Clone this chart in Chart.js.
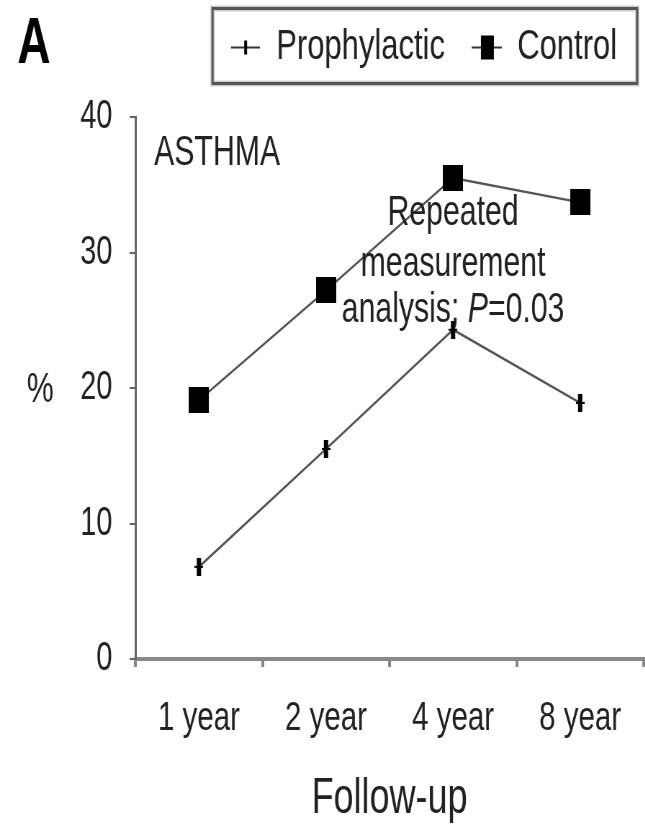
<!DOCTYPE html>
<html>
<head>
<meta charset="utf-8">
<script src="https://cdn.jsdelivr.net/npm/chart.js@4.4.1/dist/chart.umd.min.js"></script>
<style>
  html, body { margin: 0; padding: 0; background: #fff; overflow: hidden; }
  /* the figure is a horizontally squeezed one: draw wide, then squeeze */
  #asthmaChart { display: block; transform: scaleX(0.72); transform-origin: 0 0; }
</style>
</head>
<body>
<canvas id="asthmaChart" width="896" height="824"></canvas>
<script>
const categories = ['1 year', '2 year', '4 year', '8 year'];
const prophylactic = [6.8, 15.5, 24.3, 18.9];
const control = [19.1, 27.2, 35.5, 33.7];
const seriesNames = ['Prophylactic', 'Control'];
const yMin = 0, yMax = 40, yStep = 10;

const FONT = '"Liberation Sans", Arial, sans-serif';
const INK = '#222';
const LINE = '#555';

function makeMark(w, h, draw) {
  const c = document.createElement('canvas');
  c.width = w; c.height = h;
  draw(c.getContext('2d'), w, h);
  return c;
}
// chart markers
const ctrlMark = makeMark(28, 26, (g, w, h) => { g.fillStyle = '#000'; g.fillRect(0, 0, w, h); });
const prophMark = makeMark(12, 18, (g, w, h) => {
  g.fillStyle = '#000';
  g.fillRect(3, 0, 6, h);
  g.fillRect(0, 8, w, 2);
});
// legend markers (line segment with marker)
const prophLegend = makeMark(40, 16, (g, w, h) => {
  g.fillStyle = '#333'; g.fillRect(0, 7, w, 2);
  g.fillStyle = '#000'; g.fillRect(18, 1, 4, 14);
});
const ctrlLegend = makeMark(42, 26, (g, w, h) => {
  g.fillStyle = '#333'; g.fillRect(0, 12, w, 2);
  g.fillStyle = '#000'; g.fillRect(13, 1, 18, 24);
});

// extra space under the legend
const legendSpacer = {
  id: 'legendSpacer',
  beforeInit(chart) {
    const fit = chart.legend.fit;
    chart.legend.fit = function () { fit.call(this); this.height += 38; };
  }
};

// legend frame, panel letter, axis symbol and notes
const notes = {
  id: 'notes',
  afterDraw(chart) {
    const ctx = chart.ctx;
    const xs = chart.scales.x, ys = chart.scales.y, area = chart.chartArea;
    const boxes = chart.legend.legendHitBoxes;
    ctx.save();
    if (boxes.length) {
      const first = boxes[0], last = boxes[boxes.length - 1];
      const l = first.left - 25, r = last.left + last.width + 28;
      const cy = first.top + first.height / 2;
      ctx.strokeStyle = '#ccc'; ctx.lineWidth = 6;
      ctx.strokeRect(l, cy - 39, r - l, 75);
      ctx.strokeStyle = '#555'; ctx.lineWidth = 3;
      ctx.strokeRect(l, cy - 39, r - l, 75);
    }
    ctx.fillStyle = '#000';
    ctx.textBaseline = 'middle';
    ctx.textAlign = 'left';
    ctx.font = 'bold 64px ' + FONT;
    ctx.fillText('A', 24, 45);

    ctx.fillStyle = INK;
    ctx.font = '42px ' + FONT;
    ctx.textAlign = 'center';
    ctx.fillText('%', 56, ys.getPixelForValue(19.8));

    ctx.textAlign = 'left';
    ctx.fillText('ASTHMA', area.left + 26, ys.getPixelForValue(37.3));

    const cx = xs.getPixelForValue(2);
    ctx.textAlign = 'center';
    ctx.fillText('Repeated', cx, ys.getPixelForValue(32.9));
    ctx.fillText('measurement', cx, ys.getPixelForValue(29.1));

    const parts = [['analysis; ', ''], ['P', 'italic '], ['=0.03', '']];
    let total = 0;
    parts.forEach(p => { ctx.font = p[1] + '42px ' + FONT; total += ctx.measureText(p[0]).width; });
    let x = cx - total / 2;
    const y = ys.getPixelForValue(25.7);
    ctx.textAlign = 'left';
    parts.forEach(p => {
      ctx.font = p[1] + '42px ' + FONT;
      ctx.fillText(p[0], x, y);
      x += ctx.measureText(p[0]).width;
    });
    ctx.restore();
  }
};

new Chart(document.getElementById('asthmaChart').getContext('2d'), {
  type: 'line',
  data: {
    labels: categories,
    datasets: [{
      label: seriesNames[0],
      data: prophylactic,
      borderColor: LINE,
      borderWidth: 2.5,
      pointStyle: prophMark,
      pointRadius: 8,
      tension: 0,
      fill: false
    }, {
      label: seriesNames[1],
      data: control,
      borderColor: LINE,
      borderWidth: 2.5,
      pointStyle: ctrlMark,
      pointRadius: 10,
      tension: 0,
      fill: false
    }]
  },
  options: {
    responsive: false,
    animation: false,
    layout: { autoPadding: false, padding: { left: 0, right: 2, top: -11, bottom: 0 } },
    plugins: {
      tooltip: { enabled: false },
      legend: {
        position: 'top',
        align: 'end',
        labels: {
          usePointStyle: true,
          pointStyleWidth: 42,
          padding: 37,
          color: INK,
          font: { family: FONT, size: 43 },
          generateLabels: () => [
            { text: seriesNames[0], pointStyle: prophLegend, fontColor: INK, lineWidth: 0, datasetIndex: 0 },
            { text: seriesNames[1], pointStyle: ctrlLegend, fontColor: INK, lineWidth: 0, datasetIndex: 1 }
          ]
        }
      }
    },
    scales: {
      x: {
        offset: true,
        afterFit: s => { s.height = 165; },
        grid: { offset: true, drawOnChartArea: false, tickLength: 8, color: '#888', lineWidth: 4 },
        border: { color: '#888', width: 4 },
        ticks: { color: INK, padding: 27, font: { family: FONT, size: 41 }, maxRotation: 0 },
        title: { display: true, text: 'Follow-up', color: INK, font: { family: FONT, size: 50, lineHeight: 1 }, padding: { top: 0, bottom: 0 } }
      },
      y: {
        min: yMin,
        max: yMax,
        afterFit: s => { s.width = 188; },
        grid: { drawOnChartArea: false, tickLength: 8, color: '#666', lineWidth: 2 },
        border: { color: '#666', width: 3 },
        ticks: { stepSize: yStep, color: INK, padding: 24, font: { family: FONT, size: 40 } }
      }
    }
  },
  plugins: [legendSpacer, notes]
});
</script>
</body>
</html>
